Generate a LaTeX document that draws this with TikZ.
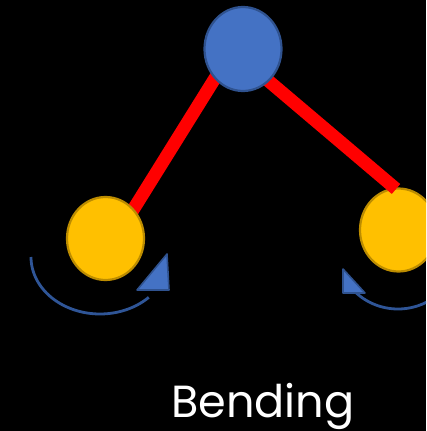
\documentclass[tikz,border=0pt]{standalone}
\usepackage{fontspec}
\setmainfont{Poppins}
\usetikzlibrary{shapes.geometric}
\definecolor{ballblue}{HTML}{4472C4}
\definecolor{ballblueedge}{HTML}{2F528F}
\definecolor{ballgold}{HTML}{FFC000}
\definecolor{ballgoldedge}{HTML}{BC8C00}
\definecolor{arcblue}{HTML}{2F5597}
\definecolor{rodred}{HTML}{FF0000}
\tikzset{
  ball/.style={ellipse, inner sep=0pt, minimum width=77pt, line width=2.2pt},
  topball/.style={ball, minimum height=84pt, fill=ballblue, draw=ballblueedge},
  sideball/.style={ball, minimum height=83pt, fill=ballgold, draw=ballgoldedge},
  rod/.style={draw=rodred, line width=13pt},
  turn/.style={draw=arcblue, line width=2.8pt},
  turnhead/.style={fill=ballblue, draw=ballblueedge, line width=1.6pt, line join=round},
  caption/.style={text=white, font=\fontsize{45}{54}\selectfont, inner sep=0pt, xscale=0.99}
}
\begin{document}
\begin{tikzpicture}[x=1pt,y=-1pt]
  % canvas
  \fill[black] (0,0) rectangle (426,431);
  \useasboundingbox (0,0) rectangle (426,431);
  \clip (0,0) rectangle (426,431);

  % rod end points
  \coordinate (rodLa) at (128,218);
  \coordinate (rodLb) at (222,67);
  \coordinate (rodRa) at (258,72);
  \coordinate (rodRb) at (396,189);

  % left rod sits beneath the balls
  \draw[rod] (rodLa) -- (rodLb);

  % right ball, then its rod on top of it, then the top ball over both rods
  \node[sideball] (right) at (398.5,230) {};
  \draw[rod] (rodRa) -- (rodRb);
  \node[topball]  (top)   at (243,49)    {};
  \node[sideball] (left)  at (105.5,238.5) {};

  % rotation arrow under the left ball
  \draw[turn] plot[domain=180:45, samples=60]
    ({100+69*cos(\x)},{257+57*sin(\x)});
  \coordinate (hlA) at (167,254);
  \coordinate (hlB) at (169,290);
  \coordinate (hlC) at (137,290);
  \filldraw[turnhead] (hlA) -- (hlB) -- (hlC) -- cycle;

  % rotation arrow under the right ball
  \draw[turn] plot[domain=140:10, samples=60]
    ({398+60*cos(\x)},{252+57*sin(\x)});
  \coordinate (hrA) at (343,269);
  \coordinate (hrB) at (343,293);
  \coordinate (hrC) at (365,293);
  \filldraw[turnhead] (hrA) -- (hrB) -- (hrC) -- cycle;

  % caption
  \node[caption, anchor=base west] (label) at (171,417) {Bending};
\end{tikzpicture}
\end{document}
